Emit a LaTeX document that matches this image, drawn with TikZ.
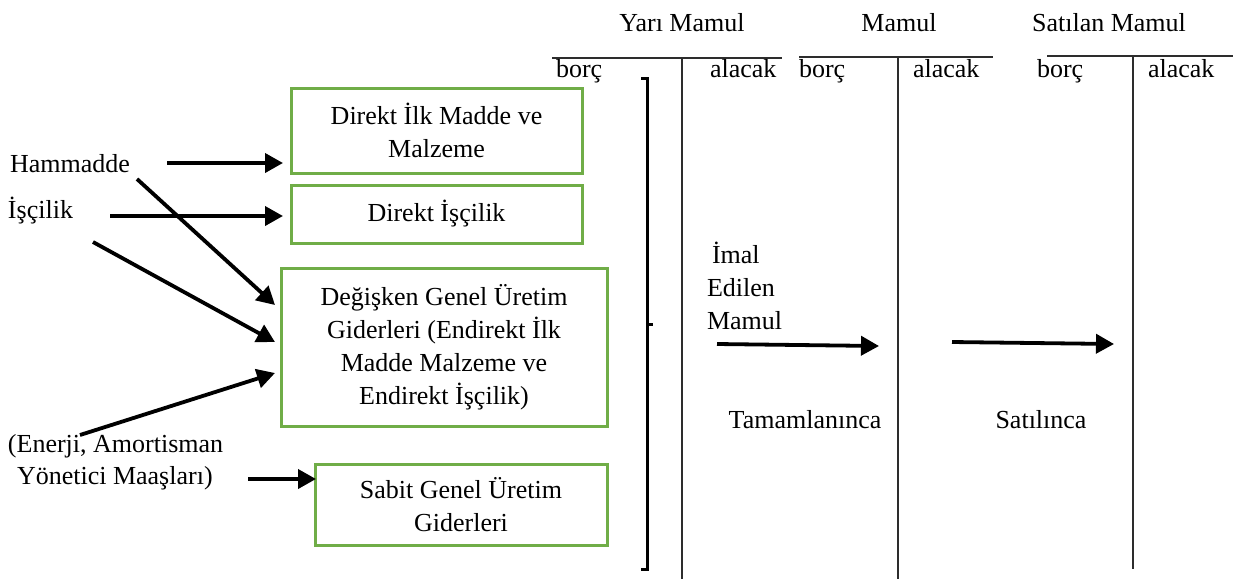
\documentclass[tikz,border=0pt]{standalone}
\usepackage{fontspec}
\setmainfont{Liberation Serif}
\usetikzlibrary{arrows.meta}
\definecolor{boxgreen}{RGB}{112,173,71}
\definecolor{tline}{RGB}{45,45,45}
\begin{document}
\begin{tikzpicture}[x=1pt,y=-1pt,
  every node/.style={font=\fontsize{26}{33}\selectfont, inner sep=0pt, outer sep=0pt},
  gbox/.style={draw=boxgreen, line width=3pt, align=center},
  lbl/.style={anchor=base west},
  clbl/.style={anchor=base},
  arr/.style={line width=3.8pt, -{Triangle[length=18pt,width=19pt]}},
  tl/.style={draw=tline, line width=1.6pt},
  brk/.style={line width=3pt}
]
\useasboundingbox (0,0) rectangle (1233,579);

% headers
\node[clbl] (hy) at (682,31) {Yarı Mamul};
\node[clbl] (hm) at (899,31) {Mamul};
\node[clbl] (hs) at (1109,31) {Satılan Mamul};

% T accounts
\draw[tl] (552,58) -- (782,58);
\draw[tl] (682,58) -- (682,579);
\draw[tl] (799,57) -- (993,57);
\draw[tl] (898,57) -- (898,579);
\draw[tl] (1047,56) -- (1233,56);
\draw[tl] (1133,56) -- (1133,569);

\node[lbl] (yb) at (556,77) {borç};
\node[lbl] (ya) at (710,77) {alacak};
\node[lbl] (mb) at (799,77) {borç};
\node[lbl] (ma) at (913,77) {alacak};
\node[lbl] (sb) at (1037,77) {borç};
\node[lbl] (sa) at (1148,77) {alacak};

% bracket
\draw[brk] (641,78) -- (647,78) -- (647,569) -- (641,569);
\draw[brk] (647,324) -- (653,324);

% green boxes
\node[gbox, minimum width=291pt, minimum height=85pt] (b1) at (436.5,130.5) {Direkt İlk Madde ve\\Malzeme};
\node[gbox, minimum width=291pt, minimum height=58pt] (b2) at (436.5,214) {Direkt İşçilik};
\node[gbox, minimum width=326pt, minimum height=158pt] (b3) at (444,347) {Değişken Genel Üretim\\Giderleri (Endirekt İlk\\Madde Malzeme ve\\Endirekt İşçilik)};
\node[gbox, minimum width=292pt, minimum height=81pt] (b4) at (461,504.5) {Sabit Genel Üretim\\Giderleri};

% left labels
\node[lbl] (ham) at (10,172) {Hammadde};
\node[lbl] (isc) at (8,218) {İşçilik};
\node[lbl] (en1) at (8,452) {(Enerji, Amortisman};
\node[lbl] (en2) at (17,484) {Yönetici Maaşları)};

% arrow end points
\coordinate (h0) at (167,163);
\coordinate (h1) at (283,163);
\coordinate (i0) at (110,216);
\coordinate (i1) at (283,216);
\coordinate (hd0) at (137,179);
\coordinate (hd1) at (275,305);
\coordinate (id0) at (93,242);
\coordinate (id1) at (275,342);
\coordinate (e0) at (80,435);
\coordinate (e1) at (275,373);
\coordinate (y0) at (248,479);
\coordinate (y1) at (316,479);

\draw[arr] (h0) -- (h1);
\draw[arr] (i0) -- (i1);
\draw[arr] (hd0) -- (hd1);
\draw[arr] (id0) -- (id1);
\draw[arr] (e0) -- (e1);
\draw[arr] (y0) -- (y1);

% right side
\node[lbl] (im1) at (712,263) {İmal};
\node[lbl] (im2) at (707,296) {Edilen};
\node[lbl] (im3) at (707,329) {Mamul};
\node[clbl] (tam) at (805,428) {Tamamlanınca};
\node[clbl] (sat) at (1041,428) {Satılınca};

\coordinate (m0) at (717,344);
\coordinate (m1) at (879,346);
\coordinate (s0) at (952,342);
\coordinate (s1) at (1114,344);
\draw[arr] (m0) -- (m1);
\draw[arr] (s0) -- (s1);
\end{tikzpicture}
\end{document}
